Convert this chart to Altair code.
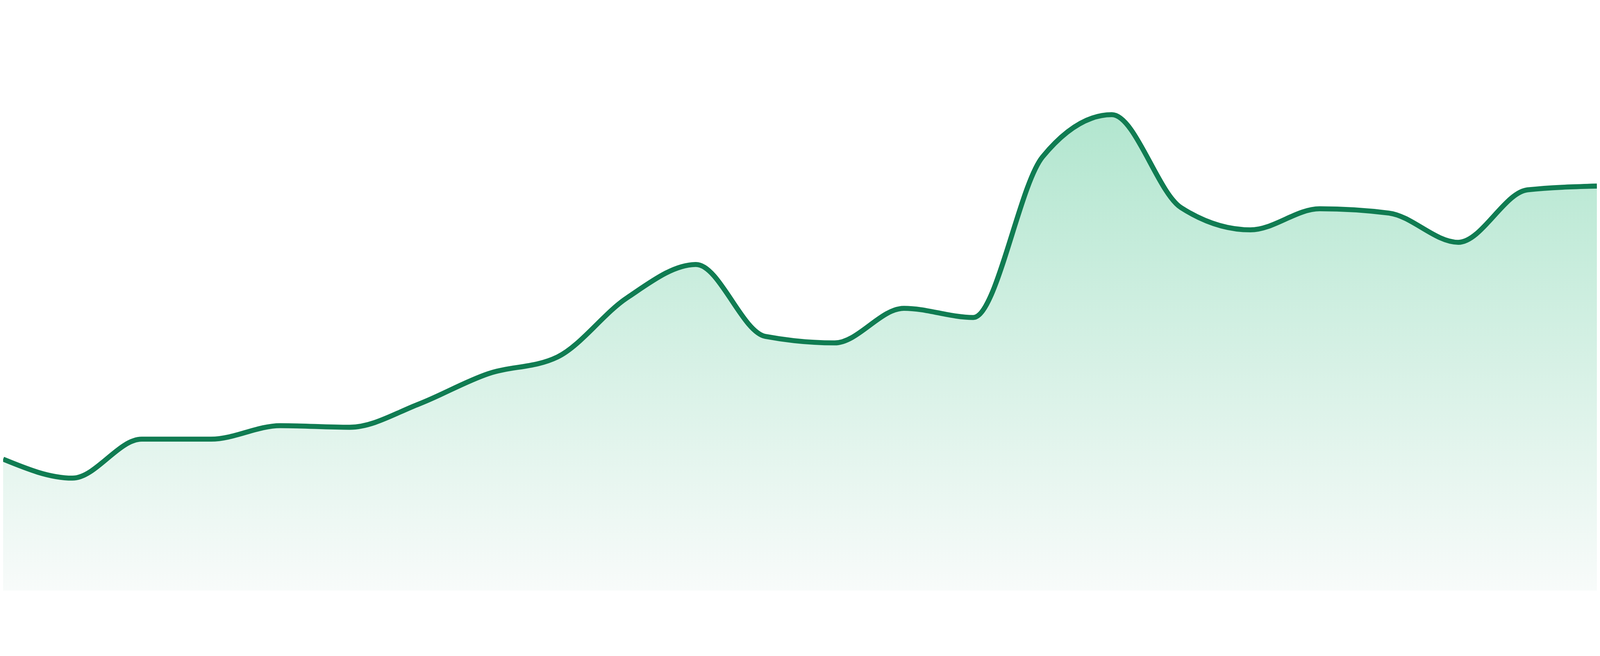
import altair as alt
import pandas as pd

# index of each observation along the x axis
idx = list(range(24))
# series values (y domain 0..100)
values = [24.3, 20.8, 28.0, 28.0, 30.5, 30.2, 34.5, 40.1, 43.2, 54.1, 60.3, 47.0,
          45.8, 52.2, 50.5, 80.2, 88.0, 70.8, 66.7, 70.6, 69.8, 64.4, 74.1, 74.8]

df = pd.DataFrame({"i": idx, "v": values})

x = alt.X("i:Q", scale=alt.Scale(domain=[0, 23], nice=False, zero=False), axis=None)
y = alt.Y("v:Q", scale=alt.Scale(domain=[0, 100], nice=False), axis=None)

area = alt.Chart(df).mark_area(
    interpolate="monotone",
    color=alt.Gradient(
        gradient="linear",
        stops=[alt.GradientStop(color="#b2e6cf", offset=0),
               alt.GradientStop(color="#f8fbfa", offset=1)],
        x1=1, x2=1, y1=0, y2=1,
    ),
).encode(x=x, y=y)

line = alt.Chart(df).mark_line(
    interpolate="monotone",
    color="#107c52",
    strokeWidth=15,
    strokeJoin="round",
).encode(x=x, y=y)

chart = alt.layer(area, line).properties(
    width=4784,
    height=1624,
    padding=0,
    autosize=alt.AutoSizeParams(type="none"),
    background="white",
).configure_view(strokeWidth=0)

chart.save("out.html", embed_options={"renderer": "svg", "actions": False})
